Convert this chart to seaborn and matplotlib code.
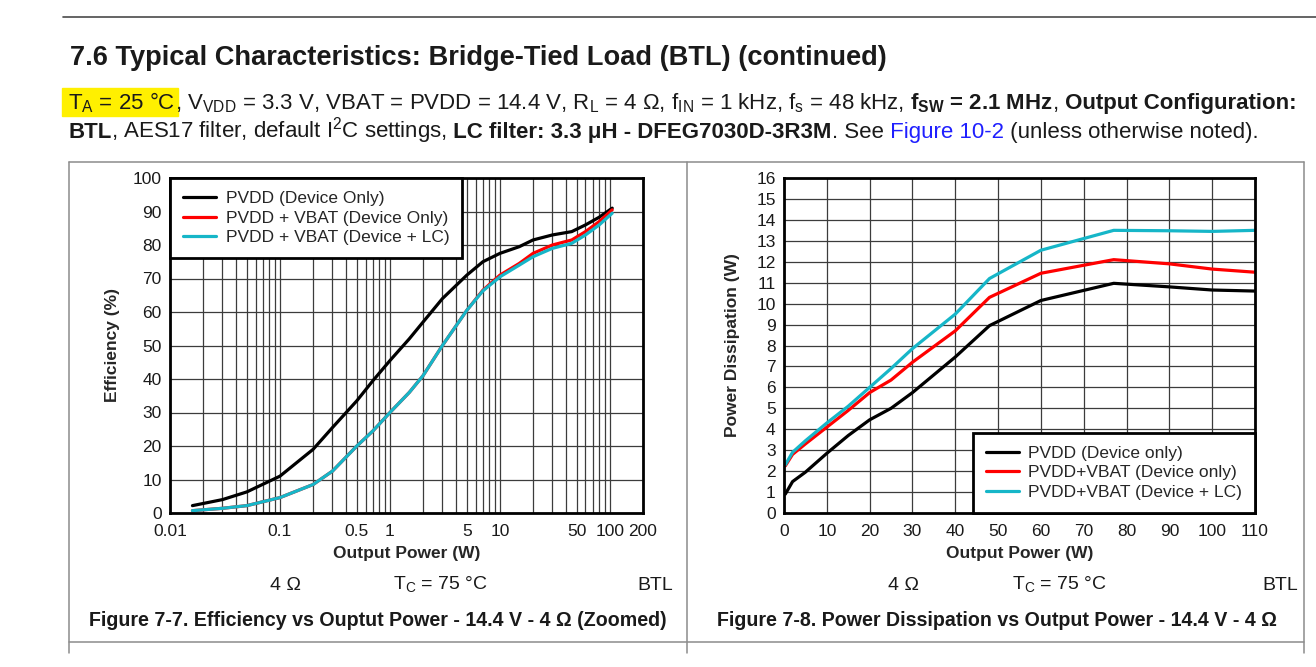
import numpy as np
import pandas as pd
import seaborn as sns
import matplotlib.pyplot as plt
from matplotlib.lines import Line2D
from matplotlib.patches import Rectangle
from matplotlib.ticker import FixedLocator, LogLocator, NullFormatter

# Figure 7-7: efficiency vs output power (log x axis)
eff_power = [0.016, 0.03, 0.05, 0.1, 0.2, 0.3, 0.5, 0.7, 1, 1.5, 2, 3, 5, 7,
             10, 15, 20, 30, 45, 60, 80, 105]
eff_pvdd = [2.2, 4.0, 6.3, 11, 19, 25.5, 33.5, 39.5, 45.5, 52, 57, 64, 71, 75,
            77.5, 79.5, 81.5, 83, 84, 86, 88.3, 91]
eff_pvdd_vbat = [0.7, 1.4, 2.2, 4.6, 8.5, 12.5, 20, 24.5, 30, 36, 41, 50, 60.5, 66.5,
                 71, 74.5, 77.5, 80, 81.5, 84, 87, 90.5]
eff_pvdd_vbat_lc = [0.7, 1.4, 2.2, 4.6, 8.5, 12.5, 20, 24.5, 30, 36, 41, 50, 60.5, 66.3,
                    70.5, 74, 76.5, 79, 80.5, 83, 86, 89.5]
eff_labels = ["PVDD (Device Only)", "PVDD + VBAT (Device Only)", "PVDD + VBAT (Device + LC)"]
eff_ticks = [0.01, 0.1, 0.5, 1, 5, 10, 50, 100, 200]
eff_ticklabels = ["0.01", "0.1", "0.5", "1", "5", "10", "50", "100", "200"]

# Figure 7-8: power dissipation vs output power
diss_power = [0.3, 2, 5, 10, 15, 20, 25, 30, 40, 48, 60, 77, 90, 100, 110]
diss_pvdd = [0.9, 1.5, 1.95, 2.85, 3.7, 4.45, 5.0, 5.75, 7.45, 8.95, 10.15, 10.97, 10.8, 10.65, 10.6]
diss_pvdd_vbat = [2.25, 2.8, 3.3, 4.1, 4.9, 5.75, 6.35, 7.2, 8.7, 10.3, 11.45, 12.1, 11.9, 11.65, 11.5]
diss_pvdd_vbat_lc = [2.3, 2.9, 3.45, 4.3, 5.1, 6.0, 6.9, 7.85, 9.5, 11.2, 12.55, 13.5, 13.48, 13.45, 13.5]
diss_labels = ["PVDD (Device only)", "PVDD+VBAT (Device only)", "PVDD+VBAT (Device + LC)"]

colors = ["#000000", "#ff0000", "#16b6c8"]

sns.set_style("white")
plt.rcParams['font.family'] = ['Liberation Sans', 'DejaVu Sans']

W, H = 1316, 667
fig = plt.figure(figsize=(W / 100, H / 100), dpi=100)


def fx(px):
    return px / W


def fy(py):
    return 1 - py / H


def long_form(x, series, labels):
    rows = []
    for vals, lab in zip(series, labels):
        for xv, yv in zip(x, vals):
            rows.append({"x": xv, "y": yv, "series": lab})
    return pd.DataFrame(rows)


def style_axes(ax):
    ax.set_axisbelow(True)
    ax.grid(True, which='both', color='#3c3c3c', linewidth=0.9)
    for s in ax.spines.values():
        s.set_linewidth(2.0)
        s.set_color('black')
    ax.tick_params(which='both', length=0, labelsize=12.5, colors='#1a1a1a')
    ax.tick_params(axis='x', pad=8)
    ax.tick_params(axis='y', pad=6)


def make_legend(ax, labels, loc):
    handles = [Line2D([], [], color=c, lw=2.3) for c in colors]
    leg = ax.legend(handles, labels, loc=loc, borderaxespad=0, fancybox=False,
                    edgecolor='black', framealpha=1, fontsize=12.5,
                    handlelength=1.9, handletextpad=0.55, labelspacing=0.25,
                    borderpad=0.75)
    leg.get_frame().set_linewidth(2.0)


# ---- left chart ----
ax1 = fig.add_axes([fx(170), fy(513), (643 - 170) / W, (513 - 178) / H])
df1 = long_form(eff_power, [eff_pvdd, eff_pvdd_vbat, eff_pvdd_vbat_lc], eff_labels)
ax1.set_xscale('log')
sns.lineplot(data=df1, x="x", y="y", hue="series", hue_order=eff_labels,
             palette=colors, linewidth=2.3, legend=False, ax=ax1,
             estimator=None, sort=False)
ax1.set_xlim(0.01, 200)
ax1.set_ylim(0, 100)
ax1.xaxis.set_major_locator(FixedLocator(eff_ticks))
ax1.set_xticklabels(eff_ticklabels)
ax1.xaxis.set_minor_locator(LogLocator(base=10, subs=np.arange(2, 10)))
ax1.xaxis.set_minor_formatter(NullFormatter())
ax1.set_yticks(range(0, 101, 10))
style_axes(ax1)
ax1.set_xlabel("Output Power (W)", fontsize=12.5, fontweight='bold')
ax1.set_ylabel("Efficiency (%)", fontsize=12.5, fontweight='bold')
ax1.xaxis.set_label_coords(0.5, -0.12)
ax1.xaxis.label.set_va('center')
ax1.yaxis.set_label_coords((112 - 170) / 473, 0.5)
ax1.yaxis.label.set_va('center')
make_legend(ax1, eff_labels, 'upper left')

# ---- right chart ----
ax2 = fig.add_axes([fx(784), fy(513), (1255 - 784) / W, (513 - 178) / H])
df2 = long_form(diss_power, [diss_pvdd, diss_pvdd_vbat, diss_pvdd_vbat_lc], diss_labels)
sns.lineplot(data=df2, x="x", y="y", hue="series", hue_order=diss_labels,
             palette=colors, linewidth=2.3, legend=False, ax=ax2,
             estimator=None, sort=False)
ax2.set_xlim(0, 110)
ax2.set_ylim(0, 16)
ax2.set_xticks(range(0, 111, 10))
ax2.set_yticks(range(0, 17))
style_axes(ax2)
ax2.set_xlabel("Output Power (W)", fontsize=12.5, fontweight='bold')
ax2.set_ylabel("Power Dissipation (W)", fontsize=12.5, fontweight='bold')
ax2.xaxis.set_label_coords(0.5, -0.12)
ax2.xaxis.label.set_va('center')
ax2.yaxis.set_label_coords((732 - 784) / 471, 0.5)
ax2.yaxis.label.set_va('center')
make_legend(ax2, diss_labels, 'lower right')

# ---- page decorations ----
line_kw = dict(transform=fig.transFigure, color='#8c8c8c', linewidth=1.1)
fig.add_artist(Line2D([fx(63), fx(1316)], [fy(17), fy(17)],
                      transform=fig.transFigure, color='#4a4a4a', linewidth=1.2))
fig.add_artist(Line2D([fx(69), fx(1304)], [fy(162), fy(162)], **line_kw))
fig.add_artist(Line2D([fx(69), fx(1304)], [fy(642), fy(642)], **line_kw))
for xv in (69, 687, 1304):
    fig.add_artist(Line2D([fx(xv), fx(xv)], [fy(162), fy(653)], **line_kw))

fig.add_artist(Rectangle((fx(62), fy(116)), (178 - 62) / W, (116 - 88) / H,
                         transform=fig.transFigure, color='#fff000', zorder=0))

txt_color = '#1a1a1a'
fig.text(fx(70), fy(65), "7.6 Typical Characteristics: Bridge-Tied Load (BTL) (continued)",
         fontsize=19.6, fontweight='bold', color=txt_color, va='baseline')

renderer = fig.canvas.get_renderer()


def rich_line(x, y, parts, size):
    for txt, weight, color in parts:
        t = fig.text(fx(x), fy(y), txt, fontsize=size, fontweight=weight,
                     color=color, va='baseline')
        x += t.get_window_extent(renderer=renderer).width


line1 = [
    ("T$_\\mathregular{A}$ = 25 °C", 'normal', txt_color),
    (", V$_\\mathregular{VDD}$ = 3.3 V, VBAT = PVDD = 14.4 V, R$_\\mathregular{L}$ = 4 Ω,"
     " f$_\\mathregular{IN}$ = 1 kHz, f$_\\mathregular{s}$ = 48 kHz,", 'normal', txt_color),
    (" f$_\\mathregular{SW}$ = 2.1 MHz", 'bold', txt_color),
    (",", 'normal', txt_color),
    (" Output Configuration:", 'bold', txt_color),
]
line2 = [
    ("BTL", 'bold', txt_color),
    (", AES17 filter, default I$^\\mathregular{2}$C settings,", 'normal', txt_color),
    (" LC filter: 3.3 μH - DFEG7030D-3R3M", 'bold', txt_color),
    (". See", 'normal', txt_color),
    (" Figure 10-2", 'normal', '#1f1fff'),
    (" (unless otherwise noted).", 'normal', txt_color),
]
rich_line(68, 109, line1, 16)
rich_line(68, 138, line2, 16)

# conditions under each chart and captions
fig.text(fx(286), fy(585), "4 Ω", fontsize=14, ha='center', va='center', color=txt_color)
fig.text(fx(440), fy(585), "T$_\\mathregular{C}$ = 75 °C", fontsize=14, ha='center', va='center', color=txt_color)
fig.text(fx(673), fy(585), "BTL", fontsize=14, ha='right', va='center', color=txt_color)
fig.text(fx(904), fy(585), "4 Ω", fontsize=14, ha='center', va='center', color=txt_color)
fig.text(fx(1059), fy(585), "T$_\\mathregular{C}$ = 75 °C", fontsize=14, ha='center', va='center', color=txt_color)
fig.text(fx(1298), fy(585), "BTL", fontsize=14, ha='right', va='center', color=txt_color)
fig.text(fx(378), fy(621), "Figure 7-7. Efficiency vs Ouptut Power - 14.4 V - 4 Ω (Zoomed)",
         fontsize=14.1, fontweight='bold', ha='center', va='center', color=txt_color)
fig.text(fx(997), fy(621), "Figure 7-8. Power Dissipation vs Output Power - 14.4 V - 4 Ω",
         fontsize=14.1, fontweight='bold', ha='center', va='center', color=txt_color)

fig.savefig("out.png", dpi=100, facecolor='white')
